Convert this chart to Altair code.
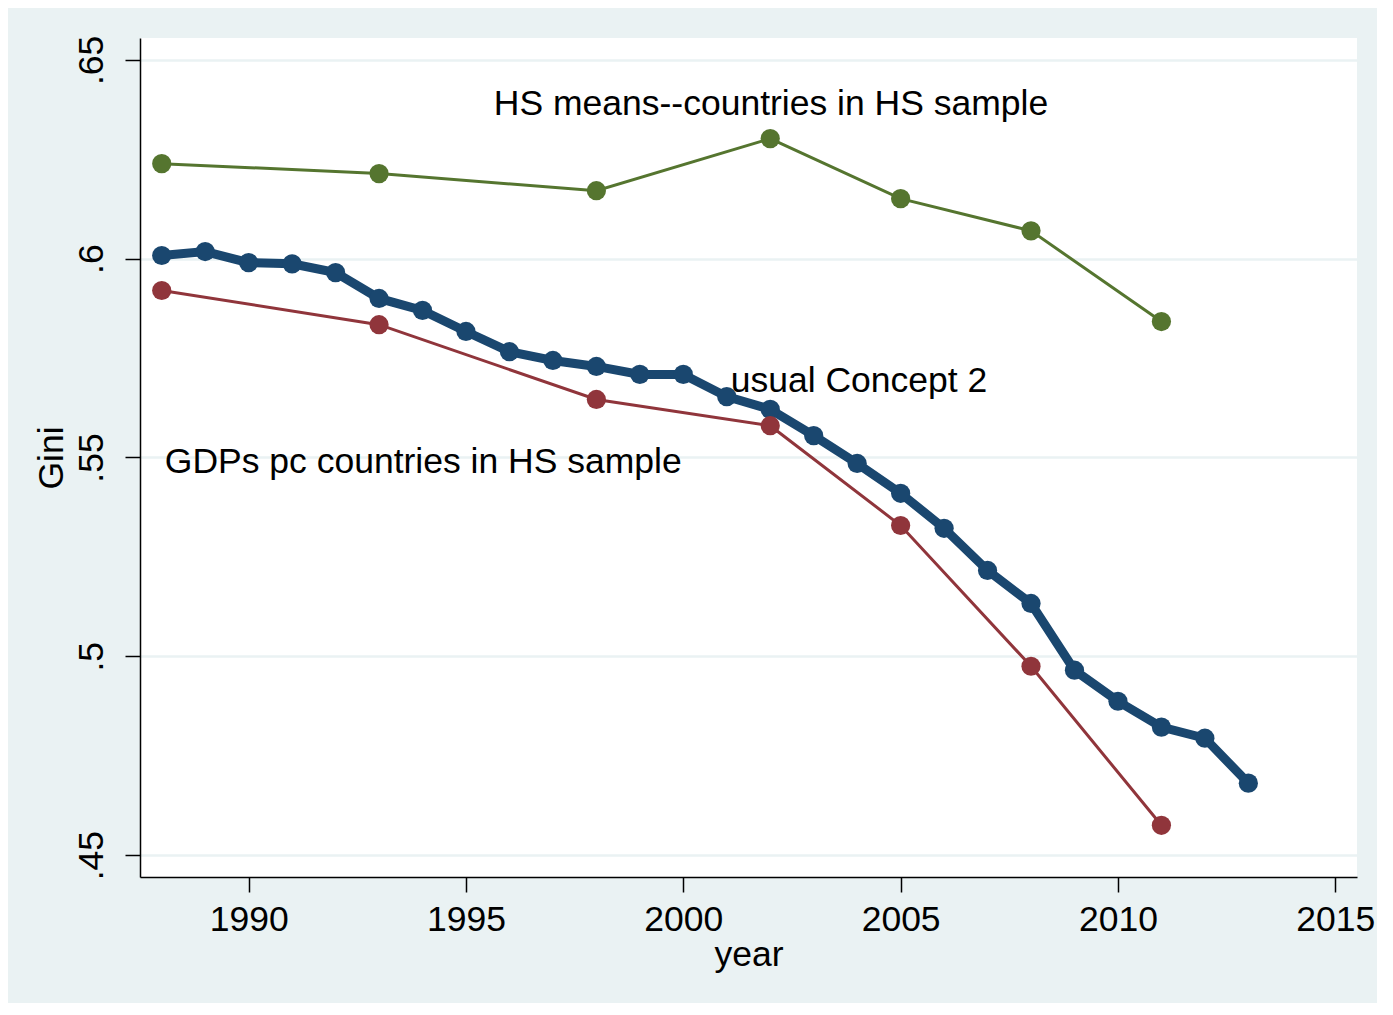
import altair as alt
import pandas as pd

# ---- data ----
blue_years = [1988, 1989, 1990, 1991, 1992, 1993, 1994, 1995, 1996, 1997, 1998, 1999, 2000,
              2001, 2002, 2003, 2004, 2005, 2006, 2007, 2008, 2009, 2010, 2011, 2012, 2013]
blue_gini = [0.6008, 0.6018, 0.5990, 0.5987, 0.5965, 0.5900, 0.5870, 0.5817, 0.5766, 0.5744,
             0.5729, 0.5709, 0.5709, 0.5653, 0.5621, 0.5555, 0.5485, 0.5410, 0.5322, 0.5216,
             0.5133, 0.4965, 0.4887, 0.4822, 0.4794, 0.4681]

red_years = [1988, 1993, 1998, 2002, 2005, 2008, 2011]
red_gini = [0.5920, 0.5834, 0.5646, 0.5580, 0.5329, 0.4975, 0.4575]

green_years = [1988, 1993, 1998, 2002, 2005, 2008, 2011]
green_gini = [0.6239, 0.6214, 0.6171, 0.6302, 0.6151, 0.6070, 0.5842]

label_text = ["HS means--countries in HS sample", "usual Concept 2", "GDPs pc countries in HS sample"]
label_year = [1995.64, 2001.09, 1988.07]
label_gini = [0.6362, 0.5665, 0.5461]

x_ticks = [1990, 1995, 2000, 2005, 2010, 2015]
y_ticks = [0.45, 0.50, 0.55, 0.60, 0.65]

FONT = "Liberation Sans"

blue_df = pd.DataFrame({"year": blue_years, "gini": blue_gini})
red_df = pd.DataFrame({"year": red_years, "gini": red_gini})
green_df = pd.DataFrame({"year": green_years, "gini": green_gini})
lab_df = pd.DataFrame({"text": label_text, "year": label_year, "gini": label_gini})

label_expr = ("datum.value == 0.45 ? '.45' : datum.value == 0.5 ? '.5' : "
              "datum.value == 0.55 ? '.55' : datum.value == 0.6 ? '.6' : '.65'")

x_enc = alt.X("year:Q",
              scale=alt.Scale(domain=[1987.5, 2015.5], nice=False, zero=False),
              axis=alt.Axis(values=x_ticks, format="d", title="year", grid=False,
                            tickSize=15, tickWidth=1.5, tickColor="black",
                            domainColor="black", domainWidth=1.5,
                            labelFont=FONT, labelFontSize=35.5, labelColor="black",
                            labelBaseline="alphabetic", labelPadding=38,
                            labelFlush=False, labelOverlap=False,
                            titleFont=FONT, titleFontSize=35.5, titleFontWeight="normal",
                            titleColor="black", titleBaseline="alphabetic",
                            titleY=88, titleX=608.5, titleAlign="center"))

y_enc = alt.Y("gini:Q",
              scale=alt.Scale(domain=[0.4445, 0.6555], nice=False, zero=False),
              axis=alt.Axis(values=y_ticks, labelExpr=label_expr, title="Gini",
                            grid=True, gridColor="#EAF2F3", gridWidth=2.5,
                            tickSize=15, tickWidth=1.5, tickColor="black",
                            domainColor="black", domainWidth=1.5,
                            labelFont=FONT, labelFontSize=35.5, labelColor="black",
                            labelAngle=270, labelAlign="center",
                            labelBaseline="alphabetic", labelPadding=23,
                            labelFlush=False, labelOverlap=False,
                            titleFont=FONT, titleFontSize=35.5, titleFontWeight="normal",
                            titleColor="black", titleAngle=270, titleAlign="center",
                            titleBaseline="alphabetic", titleX=-78, titleY=419.5))


def series(df, color, width):
    base = alt.Chart(df)
    line = base.mark_line(color=color, strokeWidth=width).encode(x=x_enc, y=y_enc)
    pts = base.mark_point(filled=True, opacity=1, color=color, size=370, shape="circle").encode(
        x="year:Q", y="gini:Q")
    return line + pts


blue = series(blue_df, "#1A476F", 9)
red = series(red_df, "#90353B", 3)
green = series(green_df, "#55752F", 3)

labels = alt.Chart(lab_df).mark_text(
    font=FONT, fontSize=35.5, color="black", align="left", baseline="alphabetic"
).encode(x="year:Q", y="gini:Q", text="text:N")

chart = alt.layer(blue, red, green, labels).properties(
    width=1217, height=839,
    autosize=alt.AutoSizeParams(type="none"),
    padding={"left": 132, "top": 30, "right": 20, "bottom": 126},
    background="#EAF2F3",
).configure_view(fill="white", stroke=None)

chart.save("out.html", embed_options={"renderer": "svg", "actions": False})
